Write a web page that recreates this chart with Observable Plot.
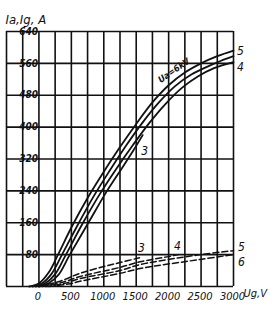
<!DOCTYPE html>
<html>
<head>
<meta charset="utf-8">
<script src="https://cdn.jsdelivr.net/npm/d3@7"></script>
<script src="https://cdn.jsdelivr.net/npm/@observablehq/plot@0.6"></script>
<style>
  html, body { margin: 0; padding: 0; background: #fff; }
  #chart svg { display: block; }
</style>
</head>
<body>
<div id="chart"></div>
<script>
// Grid and tick values
const xGrid = [-500, -250, 0, 250, 500, 750, 1000, 1250, 1500, 1750, 2000, 2250, 2500, 2750, 3000];
const yGrid = [0, 80, 160, 240, 320, 400, 480, 560, 640];
const xTickLabels = [0, 500, 1000, 1500, 2000, 2500, 3000];
const yTickLabels = [80, 160, 240, 320, 400, 480, 560, 640];

// Anode current Ia (solid), [Ug V, Ia A]
const ia6 = [[-150,0],[0,8],[150,35],[300,82],[500,148],[750,222],[1000,288],[1250,350],[1500,408],[1750,462],[2000,505],[2250,537],[2500,560],[2750,578],[3000,592]];
const ia5 = [[-100,0],[50,8],[200,33],[350,78],[600,155],[850,228],[1100,293],[1350,355],[1600,412],[1850,462],[2100,503],[2350,532],[2600,552],[2800,566],[3000,578]];
const ia4 = [[-50,0],[100,8],[250,31],[400,75],[680,160],[950,235],[1200,297],[1450,355],[1700,410],[1950,458],[2200,498],[2450,527],[2700,548],[3000,563]];
const ia3 = [[0,0],[150,8],[300,29],[470,78],[780,165],[1050,240],[1300,302],[1450,340],[1600,380]];

// Grid current Ig (dashed), [Ug V, Ig A]
const ig3 = [[0,0],[300,12],[634,33],[1000,50],[1250,60],[1550,72]];
const ig4 = [[50,0],[350,10],[634,25],[1250,48],[1560,62],[2000,75],[2150,80]];
const ig5 = [[100,0],[400,8],[634,20],[1250,40],[1560,55],[2490,80],[3000,90]];
const ig6 = [[150,0],[450,6],[634,13],[1250,33],[1560,45],[2490,68],[3000,80]];

const font = "'Liberation Sans Narrow', 'DejaVu Sans Condensed', 'DejaVu Sans', sans-serif";
const ink = "#111";

const solidLine = (d) => Plot.line(d, {x: d => d[0], y: d => d[1], stroke: ink, strokeWidth: 1.8, curve: "catmull-rom"});
const dashLine = (d) => Plot.line(d, {x: d => d[0], y: d => d[1], stroke: ink, strokeWidth: 1.5, strokeDasharray: "6,3", curve: "catmull-rom"});
const endLabel = (series, txt, dx, dy) => {
  const last = series[series.length - 1];
  return Plot.text([last], {x: d => d[0], y: d => d[1], text: () => txt, dx, dy, fontSize: 12, fontStyle: "italic", fill: ink});
};

const chart = Plot.plot({
  width: 274,
  height: 312,
  marginLeft: 6,
  marginRight: 41,
  marginTop: 31,
  marginBottom: 26,
  x: {domain: [-500, 3000], axis: null},
  y: {domain: [0, 640], axis: null},
  style: {background: "#fff", fontFamily: font, color: ink},
  marks: [
    Plot.ruleX(xGrid, {stroke: ink, strokeWidth: 1.6}),
    Plot.ruleY(yGrid, {stroke: ink, strokeWidth: 1.6}),
    solidLine(ia6), solidLine(ia5), solidLine(ia4), solidLine(ia3),
    dashLine(ig3), dashLine(ig4), dashLine(ig5), dashLine(ig6),
    Plot.text(yTickLabels, {x: 0, y: d => d, text: d => String(d), dx: -1, textAnchor: "end", fontSize: 10, fontStyle: "italic", fontWeight: "bold", fill: ink}),
    Plot.text(xTickLabels, {x: d => d, y: 0, text: d => String(d), dx: -1, dy: 10, fontSize: 11, fontStyle: "italic", fill: ink}),
    Plot.text(["Ug,V"], {frameAnchor: "bottom-right", dx: 10, dy: 10, textAnchor: "start", fontSize: 11, fontStyle: "italic", fill: ink}),
    Plot.text(["Ia,Ig, A"], {frameAnchor: "top-left", dx: -1, dy: -17, textAnchor: "start", fontSize: 13, fontStyle: "italic", fill: ink}),
    Plot.text(["Ua=6kV"], {x: 2080, y: 542, rotate: -35, fontSize: 9, fontStyle: "italic", fontWeight: "bold", fill: ink}),
    endLabel(ia5, "5", 7, -5),
    endLabel(ia4, "4", 7, 5),
    endLabel(ia3, "3", 2, 16),
    endLabel(ig3, "3", 2, -10),
    endLabel(ig4, "4", -1, -8),
    endLabel(ig5, "5", 8, -3),
    endLabel(ig6, "6", 8, 8)
  ]
});
document.getElementById("chart").appendChild(chart);
</script>
</body>
</html>
